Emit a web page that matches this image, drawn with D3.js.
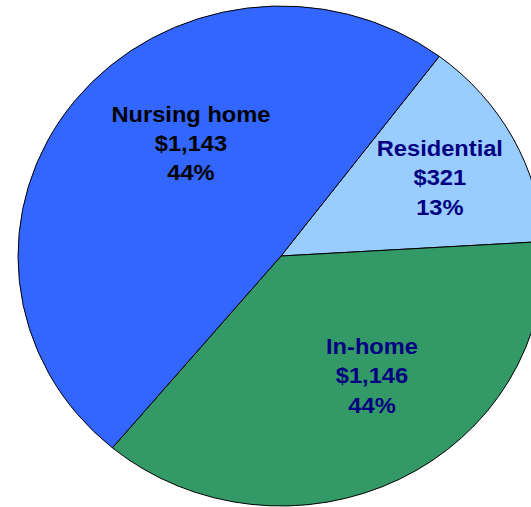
<!DOCTYPE html>
<html>
<head>
<meta charset="utf-8">
<script src="https://cdn.jsdelivr.net/npm/d3@7"></script>
<style>
  html, body { margin: 0; padding: 0; background: #fff; }
  svg { display: block; }
</style>
</head>
<body>
<svg id="chart" width="531" height="507"></svg>
<script>
// ---- data ----
const categories = ["Residential", "In-home", "Nursing home"];
const amounts    = ["$321", "$1,146", "$1,143"];
const percents   = ["13%", "44%", "44%"];
// slice shares (% of the circle) as drawn in the picture
const sliceShares = [13.8, 37.0, 49.2];

// ---- styles / layout ----
const colors = { "Residential": "#99CCFF", "In-home": "#339966", "Nursing home": "#3366FF" };
const textColors = { "Residential": "#000080", "In-home": "#000080", "Nursing home": "#000000" };
const labelAnchor = {               // in unscaled pie coordinates (first baseline)
  "Residential":  [151, -100],
  "In-home":      [86.5, 98],
  "Nursing home": [-85.6, -134.5]
};
const cx = 281, cy = 256, R = 250, xStretch = 1.052;
const startDeg = 37;

const svg = d3.select("#chart");
const g = svg.append("g").attr("transform", `translate(${cx},${cy}) scale(${xStretch},1)`);

const rows = categories.map((c, i) => ({ cat: c, share: sliceShares[i], amount: amounts[i], pct: percents[i] }));

const pie = d3.pie().sort(null).value(d => d.share)
  .startAngle(startDeg * Math.PI / 180)
  .endAngle(startDeg * Math.PI / 180 + 2 * Math.PI);
const arc = d3.arc().innerRadius(0).outerRadius(R);

g.selectAll("path.slice").data(pie(rows)).join("path")
  .attr("class", "slice")
  .attr("d", arc)
  .attr("fill", d => colors[d.data.cat])
  .attr("stroke", "#000")
  .attr("stroke-width", 1)
  .attr("vector-effect", "non-scaling-stroke");

const lbl = g.selectAll("text.lbl").data(rows).join("text")
  .attr("class", "lbl")
  .attr("x", d => labelAnchor[d.cat][0])
  .attr("y", d => labelAnchor[d.cat][1])
  .attr("text-anchor", "middle")
  .attr("font-family", "'Liberation Sans', Arial, sans-serif")
  .attr("font-weight", "bold")
  .attr("font-size", 22.5)
  .attr("fill", d => textColors[d.cat]);

lbl.each(function(d) {
  const t = d3.select(this);
  [d.cat, d.amount, d.pct].forEach((s, i) => {
    t.append("tspan").attr("x", labelAnchor[d.cat][0]).attr("dy", i === 0 ? 0 : 29.3).text(s);
  });
});
</script>
</body>
</html>
